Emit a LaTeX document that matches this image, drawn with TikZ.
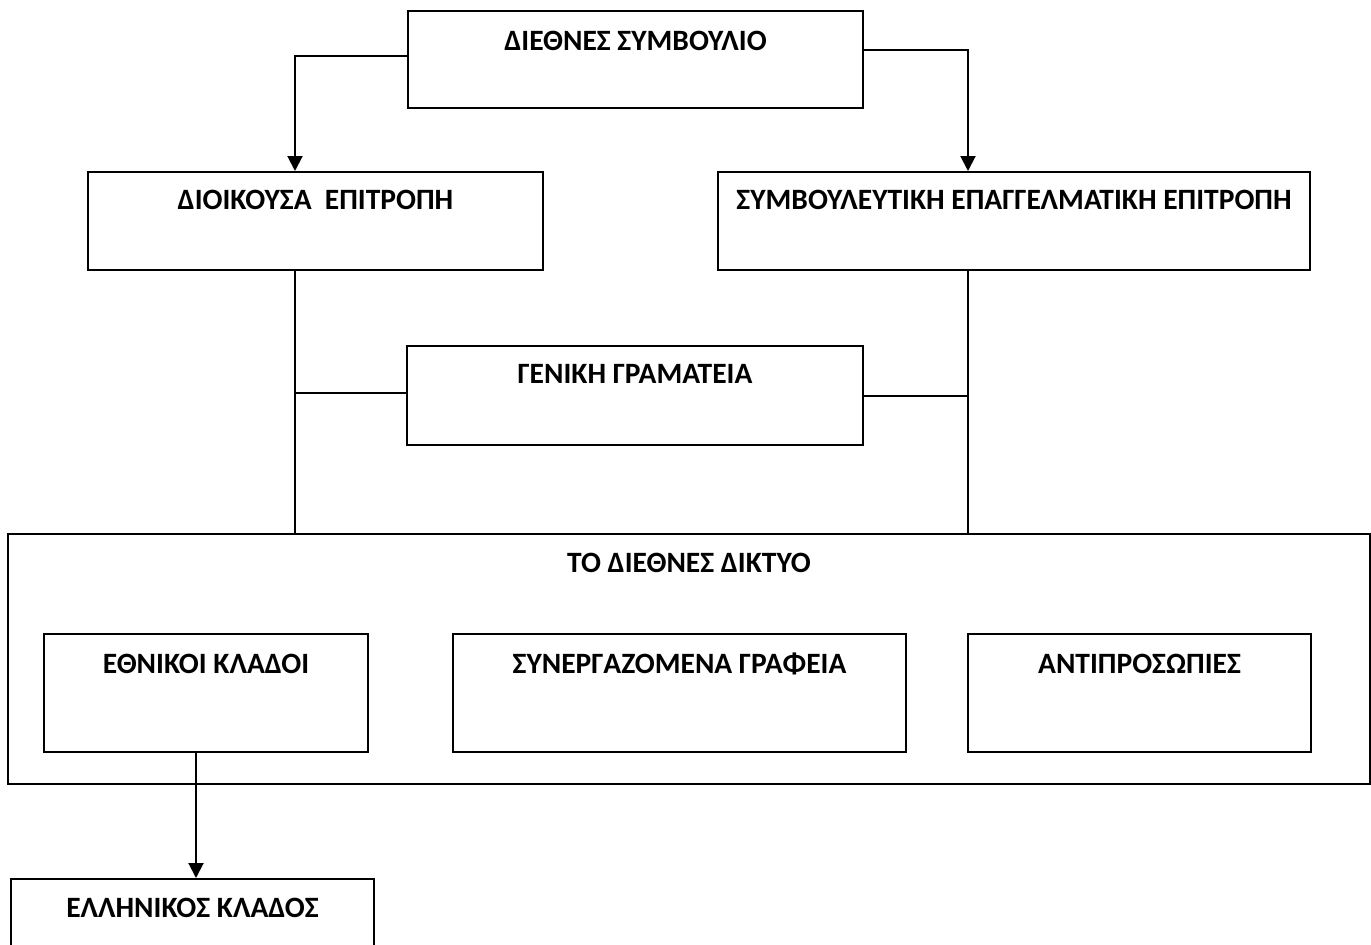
\documentclass[tikz,border=0pt]{standalone}
\usepackage{fontspec}
\setmainfont{Carlito}
\usetikzlibrary{arrows.meta}
\tikzset{
  box/.style={draw=black, line width=2pt, rectangle, inner sep=0pt, fill=white},
  txt/.style={font=\fontsize{29.5}{32}\selectfont\bfseries, inner sep=0pt, anchor=center},
  conn/.style={draw=black, line width=2pt},
  arr/.style={conn, -{Triangle[width=15pt,length=15pt]}}
}
\begin{document}
\begin{tikzpicture}[x=1pt,y=-1pt]
\useasboundingbox (0,0) rectangle (1371,945);
% boxes
\node[box, minimum width=455pt, minimum height=97pt] (dc) at (635.5,59.5) {};
\node[box, minimum width=455pt, minimum height=98pt] (dio) at (315.5,221) {};
\node[box, minimum width=592pt, minimum height=98pt] (sym) at (1014,221) {};
\node[box, minimum width=456pt, minimum height=99pt] (gen) at (635,395.5) {};
\node[box, minimum width=1362pt, minimum height=250pt] (net) at (689,659) {};
\node[box, minimum width=324pt, minimum height=118pt] (eth) at (206,693) {};
\node[box, minimum width=453pt, minimum height=118pt] (syn) at (679.5,693) {};
\node[box, minimum width=343pt, minimum height=118pt] (ant) at (1139.5,693) {};
\node[box, minimum width=363pt, minimum height=120pt] (ell) at (192.5,939) {};
% texts
\node[txt] (dct) at ([yshift=-31pt]dc.north) {ΔΙΕΘΝΕΣ ΣΥΜΒΟΥΛΙΟ};
\node[txt] (diot) at ([yshift=-29pt]dio.north) {ΔΙΟΙΚΟΥΣΑ\ \ ΕΠΙΤΡΟΠΗ};
\node[txt] (symt) at ([yshift=-29pt]sym.north) {ΣΥΜΒΟΥΛΕΥΤΙΚΗ ΕΠΑΓΓΕΛΜΑΤΙΚΗ ΕΠΙΤΡΟΠΗ};
\node[txt] (gent) at ([yshift=-29pt]gen.north) {ΓΕΝΙΚΗ ΓΡΑΜΑΤΕΙΑ};
\node[txt] (nett) at ([yshift=-30pt]net.north) {ΤΟ ΔΙΕΘΝΕΣ ΔΙΚΤΥΟ};
\node[txt] (etht) at ([yshift=-30.5pt]eth.north) {ΕΘΝΙΚΟΙ ΚΛΑΔΟΙ};
\node[txt] (synt) at ([yshift=-30.5pt]syn.north) {ΣΥΝΕΡΓΑΖΟΜΕΝΑ ΓΡΑΦΕΙΑ};
\node[txt] (antt) at ([yshift=-30.5pt]ant.north) {ΑΝΤΙΠΡΟΣΩΠΙΕΣ};
\node[txt] (ellt) at ([yshift=-30pt]ell.north) {ΕΛΛΗΝΙΚΟΣ ΚΛΑΔΟΣ};
% helper coordinates
\coordinate (lt) at ([xshift=-20.5pt]dio.north);
\coordinate (lb) at ([xshift=-20.5pt]dio.south);
\coordinate (rt) at ([xshift=-46pt]sym.north);
\coordinate (rb) at ([xshift=-46pt]sym.south);
\coordinate (dcw) at ([yshift=3.5pt]dc.west);
\coordinate (dce) at ([yshift=9.5pt]dc.east);
\coordinate (gw) at ([yshift=3pt]gen.west);
\coordinate (es) at ([xshift=-10pt]eth.south);
% connectors
\draw[arr] (dcw) -| (lt);
\draw[arr] (dce) -| (rt);
\draw[conn] (lb) -- (lb |- net.north);
\draw[conn] (rb) -- (rb |- net.north);
\draw[conn] (gw) -- (lb |- gw);
\draw[conn] (gen.east) -- (rb |- gen.east);
\draw[arr] (es) -- (es |- ell.north);
\end{tikzpicture}
\end{document}
